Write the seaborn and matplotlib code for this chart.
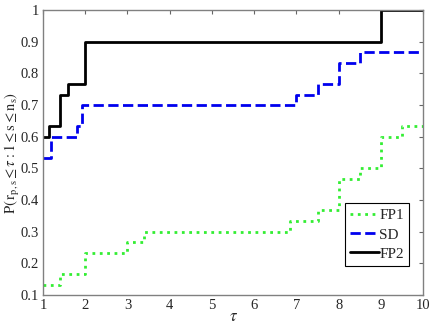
import numpy as np
import pandas as pd
import matplotlib
matplotlib.use("Agg")
import matplotlib.pyplot as plt
import seaborn as sns

# performance profile data (step functions)
fp1_tau = [1.0, 1.4, 2.0, 3.0, 3.4, 6.85, 7.5, 8.0, 8.5, 9.0, 9.5, 10.0]
fp1_p = [0.133, 0.167, 0.233, 0.267, 0.3, 0.333, 0.367, 0.467, 0.5, 0.6, 0.633, 0.633]

sd_tau = [1.0, 1.2, 1.8, 1.93, 7.0, 7.5, 8.0, 8.5, 10.0]
sd_p = [0.533, 0.6, 0.633, 0.7, 0.733, 0.767, 0.833, 0.867, 0.867]

fp2_tau = [1.0, 1.15, 1.4, 1.6, 2.0, 9.0, 10.0]
fp2_p = [0.6, 0.633, 0.733, 0.767, 0.9, 1.0, 1.0]

x_ticks = [1, 2, 3, 4, 5, 6, 7, 8, 9, 10]
y_ticks = [0.1, 0.2, 0.3, 0.4, 0.5, 0.6, 0.7, 0.8, 0.9, 1.0]
y_ticklabels = ["0.1", "0.2", "0.3", "0.4", "0.5", "0.6", "0.7", "0.8", "0.9", "1"]

sns.set_style("white")
plt.rcParams['font.family'] = ['Liberation Serif', 'DejaVu Serif']
plt.rcParams['mathtext.fontset'] = 'stix'

fig = plt.figure(figsize=(4.3, 3.28), dpi=100)
ax = fig.add_axes([0.1, 0.1006, 0.884, 0.869])

lines = [
    ("FP1", fp1_tau, fp1_p, "#33ee33", ":"),
    ("SD", sd_tau, sd_p, "#0000ee", "--"),
    ("FP2", fp2_tau, fp2_p, "black", "-"),
]
for name, t, p, c, ls in lines:
    df = pd.DataFrame({"tau": t, "p": p})
    sns.lineplot(data=df, x="tau", y="p", ax=ax, color=c, linestyle=ls,
                 linewidth=2, drawstyle="steps-post", label=name)

ax.set_xlim(1, 10)
ax.set_ylim(0.1, 1.0)
ax.set_xticks(x_ticks)
ax.set_xticklabels([str(v) for v in x_ticks])
ax.set_yticks(y_ticks)
ax.set_yticklabels(y_ticklabels)
ax.tick_params(direction="in", length=3, top=True, right=True,
               labelsize=10.5, color="0.4", pad=3)
for s in ax.spines.values():
    s.set_color("0.5")
    s.set_linewidth(1.0)

ax.set_xlabel(r"$\tau$", fontsize=12, labelpad=-2)
ax.set_ylabel(r"$\mathrm{P}\left(\,\mathrm{r}_{\mathrm{p,s}} \leq \tau : 1 \leq \mathrm{s} \leq \mathrm{n}_{\mathrm{s}}\right)$",
              fontsize=10.5, va="center")
ax.yaxis.set_label_coords(-0.08, 0.5)

leg = ax.legend(loc="lower right", bbox_to_anchor=(0.963, 0.102),
                borderaxespad=0, fancybox=False, framealpha=1,
                edgecolor="black", fontsize=11, handlelength=1.9,
                handletextpad=0.0, labelspacing=0.35, borderpad=0.35)
leg.get_frame().set_linewidth(0.8)

fig.savefig("out.png", dpi=100)
